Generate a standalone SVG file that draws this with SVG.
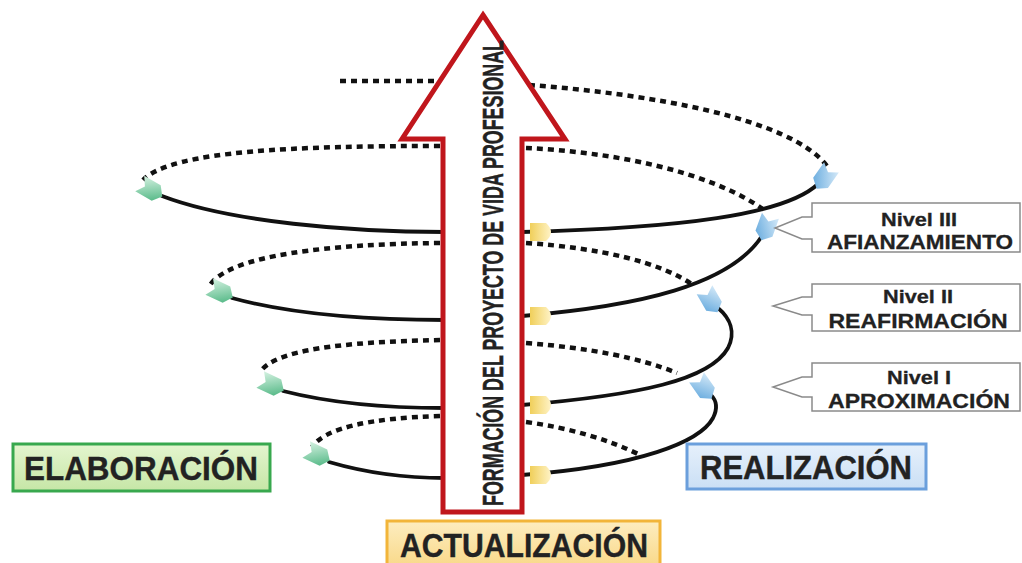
<svg xmlns="http://www.w3.org/2000/svg" width="1022" height="563" viewBox="0 0 1022 563">
<defs>
<style>
.solid{fill:none;stroke:#111;stroke-width:3.8;stroke-linecap:round}
.dot{fill:none;stroke:#111;stroke-width:4.5;stroke-dasharray:6 5}
.call{fill:#fff;stroke:#8a8a8a;stroke-width:1.5}
.ct{font-family:"Liberation Sans Narrow","Liberation Sans",Arial,sans-serif;font-weight:bold;fill:#222;text-anchor:middle;stroke:#222;stroke-width:0.3}
.big{font-family:"Liberation Sans Narrow","Liberation Sans",Arial,sans-serif;font-weight:bold;fill:#222;font-size:34px;stroke:#222;stroke-width:0.4}
</style>
<linearGradient id="gG" x1="0" y1="0" x2="1" y2="1"><stop offset="0" stop-color="#d6f2e2"/><stop offset="1" stop-color="#46b27c"/></linearGradient>
<linearGradient id="gB" x1="0" y1="0" x2="1" y2="1"><stop offset="0" stop-color="#d4e9f8"/><stop offset="1" stop-color="#5fa6dc"/></linearGradient>
<linearGradient id="gY" x1="0" y1="0" x2="1" y2="0"><stop offset="0" stop-color="#f0cf5a"/><stop offset="1" stop-color="#fff3c6"/></linearGradient>
<linearGradient id="gEl" x1="0" y1="0" x2="0" y2="1"><stop offset="0" stop-color="#e4f5cf"/><stop offset="1" stop-color="#c6e6a6"/></linearGradient>
<linearGradient id="gRe" x1="0" y1="0" x2="0" y2="1"><stop offset="0" stop-color="#e6f0fb"/><stop offset="1" stop-color="#cadff5"/></linearGradient>
<linearGradient id="gAc" x1="0" y1="0" x2="0" y2="1"><stop offset="0" stop-color="#fdedc0"/><stop offset="1" stop-color="#f9d98a"/></linearGradient>
<path id="mk" d="M-13,-9 L6,-9 L13,0 L6,9 L-13,9 L-7,0 Z"/>
<path id="yk" d="M-12,-9 L4,-9 Q14,0 4,9 L-12,9 Z"/>
</defs>

<g id="connectors">
  <!-- back (dotted) arcs -->
  <path class="dot" d="M340,81 L442,81"/>
  <path class="dot" d="M529,85 C650,94 790,118 827,166"/>
  <path class="dot" d="M440,146 C300,146 172,150 143,180"/>
  <path class="dot" d="M526,148 C610,152 710,170 767,212"/>
  <path class="dot" d="M440,243 C330,244 230,255 210,285"/>
  <path class="dot" d="M526,243 C600,248 660,262 693,285"/>
  <path class="dot" d="M440,340 C340,342 275,350 260,372"/>
  <path class="dot" d="M526,343 C590,348 640,358 677,373"/>
  <path class="dot" d="M440,416 C370,418 325,428 312,447"/>
  <path class="dot" d="M526,422 C570,428 610,440 640,455"/>
  <!-- front (solid) arcs -->
  <path class="solid" d="M162,196 C230,222 350,232 445,232"/>
  <path class="solid" d="M232,298 C290,314 370,320 445,320"/>
  <path class="solid" d="M283,391 C330,403 390,408 445,408"/>
  <path class="solid" d="M329,462 C370,474 410,478 445,478"/>
  <path class="solid" d="M522,232 C680,228 785,215 818,184"/>
  <path class="solid" d="M522,316 C640,306 730,285 762,236"/>
  <path class="solid" d="M522,405 C640,395 710,380 728,348 C736,332 730,318 718,308"/>
  <path class="solid" d="M522,475 C640,466 700,442 713,418 C718,408 716,400 711,395"/>
</g>

<g id="arrow">
  <polygon points="483,15 565,139 522,139 522,512 443,512 443,139 402,139" fill="#fff" stroke="#c0161c" stroke-width="5" stroke-linejoin="miter"/>
  <text transform="translate(503,506) rotate(-90)" x="0" y="0" font-family="'Liberation Sans Narrow','Liberation Sans',Arial,sans-serif" font-weight="bold" font-size="29" fill="#222" stroke="#222" stroke-width="0.5" textLength="466" lengthAdjust="spacingAndGlyphs">FORMACIÓN DEL PROYECTO DE VIDA PROFESIONAL</text>
</g>

<g id="markers-green" fill="url(#gG)">
  <use href="#mk" transform="translate(151,190) rotate(30)"/>
  <use href="#mk" transform="translate(221,292) rotate(25)"/>
  <use href="#mk" transform="translate(272,385) rotate(25)"/>
  <use href="#mk" transform="translate(318,455) rotate(25)"/>
</g>
<g id="markers-blue" fill="url(#gB)">
  <use href="#mk" transform="translate(824,178) rotate(125)"/>
  <use href="#mk" transform="translate(766,228) rotate(110)"/>
  <use href="#mk" transform="translate(711,301) rotate(60)"/>
  <use href="#mk" transform="translate(704,388) rotate(55)"/>
</g>
<g id="markers-yellow" fill="url(#gY)">
  <use href="#yk" transform="translate(542,232)"/>
  <use href="#yk" transform="translate(542,316)"/>
  <use href="#yk" transform="translate(542,405)"/>
  <use href="#yk" transform="translate(542,475)"/>
</g>

<g id="nivel3">
  <path class="call" d="M1020,203 L812,203 L812,217 L802,217 L775,228 L802,239 L812,239 L812,252 L1020,252 Z"/>
  <text class="ct" x="919" y="226" font-size="19" textLength="76" lengthAdjust="spacingAndGlyphs">Nivel III</text>
  <text class="ct" x="920" y="249" font-size="21" textLength="186" lengthAdjust="spacingAndGlyphs">AFIANZAMIENTO</text>
</g>
<g id="nivel2">
  <path class="call" d="M1020,284 L812,284 L812,297 L802,297 L773,306 L802,315 L812,315 L812,331 L1020,331 Z"/>
  <text class="ct" x="918" y="303" font-size="19" textLength="70" lengthAdjust="spacingAndGlyphs">Nivel II</text>
  <text class="ct" x="918" y="328" font-size="21" textLength="179" lengthAdjust="spacingAndGlyphs">REAFIRMACIÓN</text>
</g>
<g id="nivel1">
  <path class="call" d="M1020,363 L812,363 L812,377 L802,377 L773,387 L802,397 L812,397 L812,411 L1020,411 Z"/>
  <text class="ct" x="919" y="384" font-size="19" textLength="64" lengthAdjust="spacingAndGlyphs">Nivel I</text>
  <text class="ct" x="919" y="408" font-size="21" textLength="182" lengthAdjust="spacingAndGlyphs">APROXIMACIÓN</text>
</g>

<g id="elaboracion">
  <rect x="13" y="444" width="257" height="47" fill="url(#gEl)" stroke="#38a84e" stroke-width="3"/>
  <text class="big" x="24" y="480" textLength="234" lengthAdjust="spacingAndGlyphs">ELABORACIÓN</text>
</g>
<g id="realizacion">
  <rect x="687" y="444" width="239" height="45" fill="url(#gRe)" stroke="#6b9fdc" stroke-width="3"/>
  <text class="big" x="700" y="479" textLength="212" lengthAdjust="spacingAndGlyphs">REALIZACIÓN</text>
</g>
<g id="actualizacion">
  <rect x="387" y="521" width="273" height="45" fill="url(#gAc)" stroke="#f2b53a" stroke-width="3"/>
  <text class="big" x="400" y="557" textLength="248" lengthAdjust="spacingAndGlyphs">ACTUALIZACIÓN</text>
</g>
</svg>
